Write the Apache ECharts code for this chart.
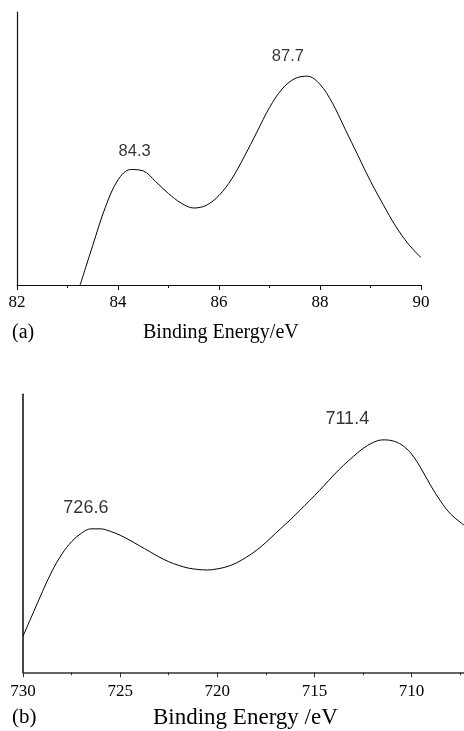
<!DOCTYPE html>
<html><head><meta charset="utf-8">
<script src="https://cdn.jsdelivr.net/npm/echarts@6/dist/echarts.min.js"></script>
<style>html,body{margin:0;padding:0;background:#fff}#c{width:464px;height:731px}</style>
</head><body><div id="c"></div>
<script>
// ---- Panel (a) ----
const aEnergy = [83.25, 83.5, 83.75, 84.0, 84.25, 84.5, 84.75, 85.0, 85.25, 85.5, 85.75, 86.0, 86.25, 86.5, 86.75, 87.0, 87.25, 87.5, 87.75, 88.0, 88.25, 88.5, 88.75, 89.0, 89.25, 89.5, 89.75, 90.0];
const aIntensity = [0, 14.5, 28.5, 38.5, 42.3, 41.8, 37.8, 33.5, 30.0, 28.2, 29.2, 32.8, 38.8, 47.0, 56.0, 65.0, 71.8, 75.6, 76.5, 73.5, 66.5, 57.0, 47.5, 38.0, 29.5, 21.5, 15.0, 10.0];
const aPeakEnergy = [84.33, 87.66];
const aPeakIntensity = [42.6, 76.7];
const aPeakLabels = ['84.3', '87.7'];
const aTickLabels = [82, 84, 86, 88, 90];

// ---- Panel (b) ----
const bEnergy = [730, 729.5, 729, 728.5, 728, 727.5, 727, 726.5, 726, 725.5, 725, 724.5, 724, 723.5, 723, 722.5, 722, 721.5, 721, 720.5, 720, 719.5, 719, 718.5, 718, 717.5, 717, 716.5, 716, 715.5, 715, 714.5, 714, 713.5, 713, 712.5, 712, 711.5, 711, 710.5, 710, 709.5, 709, 708.5, 708, 707.5, 707.3];
const bIntensity = [13, 21, 29, 36.5, 42.5, 47, 50, 51.6, 51.6, 50.7, 49.3, 47.5, 45.5, 43.5, 41.5, 39.8, 38.5, 37.5, 37, 36.8, 37.2, 38, 39.4, 41.4, 43.8, 46.7, 50, 53.2, 56.5, 60, 63.5, 67.2, 71, 74.5, 77.6, 80.5, 82.6, 83.6, 83.3, 81.8, 78.5, 73.2, 67, 61.5, 57, 54, 53];
const bPeakEnergy = [726.3, 711.3];
const bPeakIntensity = [51.8, 83.6];
const bPeakLabels = ['726.6', '711.4'];
const bTickLabels = [730, 725, 720, 715, 710];
const bMinorTicks = [727.5, 722.5, 717.5, 712.5, 707.5];
const bAxisRange = [707.3, 730];

const aLabelOffsets = [[0, -17], [-15, -19]];
const bLabelOffsets = [[-9, -20], [-39, -21]];

function zip(xs, ys) { return xs.map((x, i) => [x, ys[i]]); }
function peakItems(xs, ys, names, offs, size) {
  return xs.map((x, i) => ({
    value: [x, ys[i]],
    label: { show: true, formatter: names[i], position: 'inside', offset: offs[i],
      fontFamily: 'Liberation Sans', fontSize: size, color: '#000' }
  }));
}

const serif = 'Liberation Serif';
const chart = echarts.init(document.getElementById('c'), null, { renderer: 'canvas' });
chart.setOption({
  animation: false,
  backgroundColor: '#fff',
  grid: [
    { left: 17, top: 12, width: 404, height: 273 },
    { left: 23, top: 394.3, width: 441, height: 278 }
  ],
  xAxis: [
    {
      gridIndex: 0, type: 'value', min: aTickLabels[0], max: aTickLabels[aTickLabels.length - 1],
      interval: aTickLabels[1] - aTickLabels[0],
      axisLine: { show: true, onZero: false, lineStyle: { color: '#111', width: 1.2 } },
      axisTick: { show: true, length: 5, lineStyle: { color: '#111', width: 1 } },
      minorTick: { show: true, splitNumber: 2, length: 3, lineStyle: { color: '#111', width: 1 } },
      splitLine: { show: false }, minorSplitLine: { show: false },
      axisLabel: { margin: 18, verticalAlign: 'middle', fontFamily: serif, fontSize: 17, color: '#000',
        showMinLabel: true, showMaxLabel: true }
    },
    {
      gridIndex: 1, type: 'value', min: bAxisRange[0], max: bAxisRange[1], inverse: true, position: 'bottom',
      axisLine: { show: true, onZero: false, lineStyle: { color: '#333', width: 1.6 } },
      axisTick: { show: true, length: 5, customValues: bTickLabels, lineStyle: { color: '#333', width: 1 } },
      splitLine: { show: false },
      axisLabel: { margin: 19, verticalAlign: 'middle', fontFamily: serif, fontSize: 17, color: '#000',
        customValues: bTickLabels }
    },
    {
      gridIndex: 1, type: 'value', min: bAxisRange[0], max: bAxisRange[1], inverse: true, position: 'bottom', offset: 0,
      axisLine: { show: false, onZero: false },
      axisTick: { show: true, length: 3, customValues: bMinorTicks, lineStyle: { color: '#333', width: 1 } },
      splitLine: { show: false },
      axisLabel: { show: false }
    }
  ],
  yAxis: [
    { gridIndex: 0, type: 'value', min: 0, max: 100,
      axisLine: { show: true, onZero: false, lineStyle: { color: '#111', width: 1.2 } },
      axisTick: { show: false }, axisLabel: { show: false }, splitLine: { show: false } },
    { gridIndex: 1, type: 'value', min: 0, max: 100,
      axisLine: { show: true, onZero: false, lineStyle: { color: '#333', width: 1.8 } },
      axisTick: { show: false }, axisLabel: { show: false }, splitLine: { show: false } }
  ],
  series: [
    { type: 'line', xAxisIndex: 0, yAxisIndex: 0, data: zip(aEnergy, aIntensity), smooth: 0.35,
      showSymbol: false, lineStyle: { color: '#000', width: 1 } },
    { type: 'scatter', xAxisIndex: 0, yAxisIndex: 0, symbolSize: 0,
      data: peakItems(aPeakEnergy, aPeakIntensity, aPeakLabels, aLabelOffsets, 16.5) },
    { type: 'line', xAxisIndex: 1, yAxisIndex: 1, data: zip(bEnergy, bIntensity), smooth: 0.35,
      showSymbol: false, lineStyle: { color: '#000', width: 1 } },
    { type: 'scatter', xAxisIndex: 1, yAxisIndex: 1, symbolSize: 0,
      data: peakItems(bPeakEnergy, bPeakIntensity, bPeakLabels, bLabelOffsets, 18) }
  ],
  graphic: [
    { type: 'text', left: 12, top: 323, style: { text: '(a)', font: '20px "Liberation Serif"', fill: '#000' } },
    { type: 'text', left: 143, top: 323, style: { text: 'Binding Energy/eV', font: '20px "Liberation Serif"', fill: '#000' } },
    { type: 'text', left: 12, top: 707, style: { text: '(b)', font: '21px "Liberation Serif"', fill: '#000' } },
    { type: 'text', left: 153, top: 706, style: { text: 'Binding Energy /eV', font: '23px "Liberation Serif"', fill: '#000' } }
  ]
});
</script>
</body></html>
